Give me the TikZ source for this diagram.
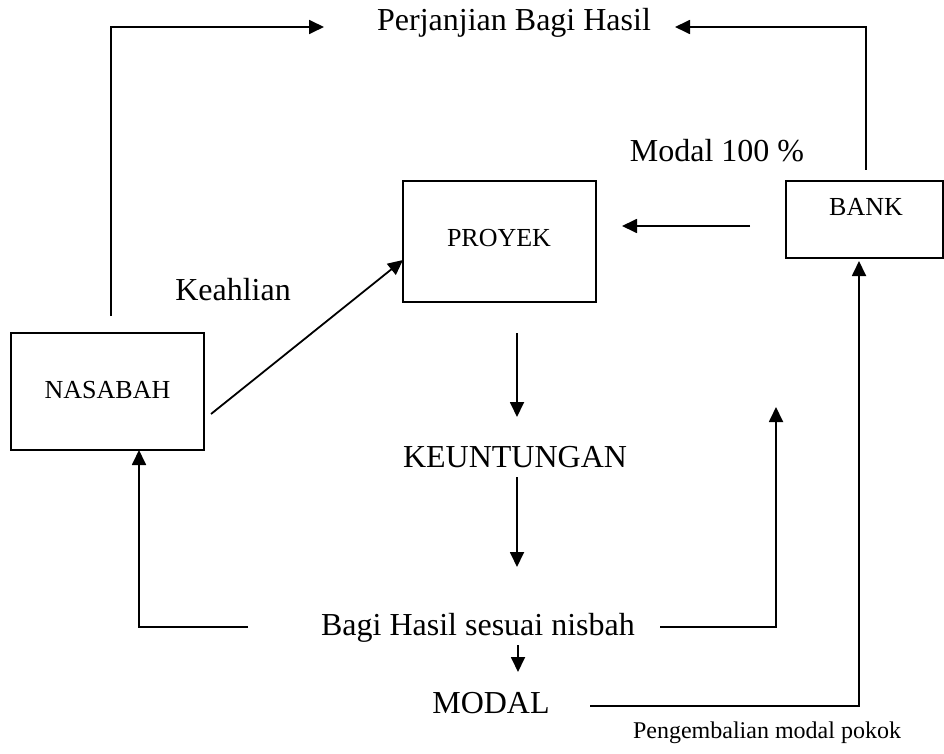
\documentclass[tikz,border=0pt]{standalone}
\usepackage{fontspec}
\setmainfont{Liberation Serif}
\usetikzlibrary{arrows.meta}
\begin{document}
\begin{tikzpicture}[x=1pt,y=-1pt,
  line width=1.8pt,
  arr/.style={-{Triangle[length=15pt,width=14pt]}},
  box/.style={draw,line width=1.8pt,inner sep=0pt},
  big/.style={anchor=base,font=\fontsize{32}{38}\selectfont,inner sep=0pt},
  boxlbl/.style={anchor=base,font=\fontsize{26}{31}\selectfont,inner sep=0pt},
  small/.style={anchor=base,font=\fontsize{24}{29}\selectfont,inner sep=0pt}]
\useasboundingbox (0,0) rectangle (944,754);
% boxes
\node[box,minimum width=193pt,minimum height=117pt] (nasabah) at (107.5,391.5) {};
\node[box,minimum width=193pt,minimum height=121pt] (proyek) at (499.5,241.5) {};
\node[box,minimum width=157pt,minimum height=77pt] (bank) at (864.5,219.5) {};
\node[boxlbl] (nasabahT) at (107.5,398) {NASABAH};
\node[boxlbl] (proyekT) at (499,246) {PROYEK};
\node[boxlbl] (bankT) at (866,215) {BANK};
% texts
\node[big] (perj) at (514,31) {Perjanjian Bagi Hasil};
\node[big] (modal100) at (717,162) {Modal 100 \%};
\node[big] (keahlian) at (233,300) {Keahlian};
\node[big] (untung) at (515,467) {KEUNTUNGAN};
\node[big] (bagi) at (478,635) {Bagi Hasil sesuai nisbah};
\node[big] (modal) at (491,713) {MODAL};
\node[small] (kembali) at (767,738) {Pengembalian modal pokok};
% connector ends
\coordinate (tlS) at (111,316);
\coordinate (tlE) at (324,27);
\coordinate (trS) at (866,170);
\coordinate (trE) at (675,27);
\coordinate (bpS) at (750,226);
\coordinate (bpE) at (622,226);
\coordinate (npS) at (211,414);
\coordinate (npE) at (403,260);
\coordinate (puS) at (517,333);
\coordinate (puE) at (517,417);
\coordinate (ubS) at (517,477);
\coordinate (ubE) at (517,567);
\coordinate (bnS) at (248,627);
\coordinate (bnE) at (139,450);
\coordinate (brS) at (660,627);
\coordinate (brE) at (776,407);
\coordinate (bmS) at (518,645);
\coordinate (bmE) at (518,672);
\coordinate (mbS) at (590,706);
\coordinate (mbE) at (859,261);
% connectors
\draw[arr] (tlS) |- (tlE);
\draw[arr] (trS) |- (trE);
\draw[arr] (bpS) -- (bpE);
\draw[arr] (npS) -- (npE);
\draw[arr] (puS) -- (puE);
\draw[arr] (ubS) -- (ubE);
\draw[arr] (bnS) -| (bnE);
\draw[arr] (brS) -| (brE);
\draw[arr] (bmS) -- (bmE);
\draw[arr] (mbS) -| (mbE);
\end{tikzpicture}
\end{document}
